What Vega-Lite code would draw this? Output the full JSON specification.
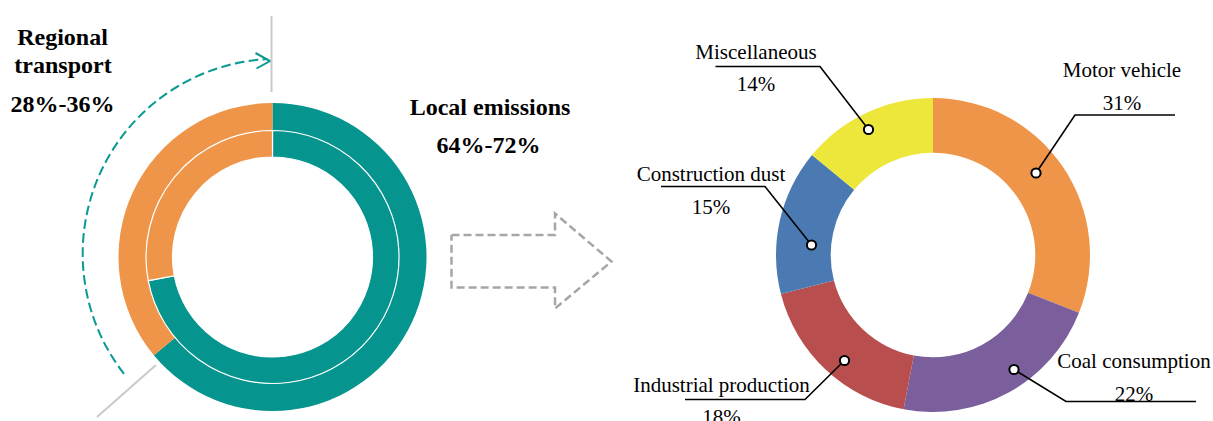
{
  "$schema": "https://vega.github.io/schema/vega-lite/v6.json",
  "width": 1213,
  "height": 421,
  "autosize": {"type": "fit", "contains": "padding"},
  "padding": 0,
  "background": "white",
  "config": {"view": {"stroke": null}, "text": {"font": "Liberation Serif"}},
  "datasets": {
    "rings": [
      {"ring": "outer", "source": "Local emissions", "share": 0.64, "seq": 1},
      {"ring": "outer", "source": "Regional transport", "share": 0.36, "seq": 2},
      {"ring": "inner", "source": "Local emissions", "share": 0.72, "seq": 1},
      {"ring": "inner", "source": "Regional transport", "share": 0.28, "seq": 2}
    ],
    "slices": [
      {"name": "Motor vehicle", "share": 0.31, "seq": 1},
      {"name": "Coal consumption", "share": 0.22, "seq": 2},
      {"name": "Industrial production", "share": 0.18, "seq": 3},
      {"name": "Construction dust", "share": 0.15, "seq": 4},
      {"name": "Miscellaneous", "share": 0.14, "seq": 5}
    ],
    "callouts": [
      {"name": "Motor vehicle", "lx": 1122, "ny": 76.5, "vy": 110},
      {"name": "Coal consumption", "lx": 1134, "ny": 368, "vy": 400.5},
      {"name": "Industrial production", "lx": 721.5, "ny": 391.5, "vy": 424},
      {"name": "Construction dust", "lx": 711, "ny": 181, "vy": 213.5},
      {"name": "Miscellaneous", "lx": 756, "ny": 58.5, "vy": 91}
    ],
    "leaders": [
      {"name": "Motor vehicle", "step": 0, "px": 1036, "py": 173},
      {"name": "Motor vehicle", "step": 1, "px": 1075, "py": 115},
      {"name": "Motor vehicle", "step": 2, "px": 1175, "py": 115},
      {"name": "Coal consumption", "step": 0, "px": 1014, "py": 369.5},
      {"name": "Coal consumption", "step": 1, "px": 1066, "py": 401.5},
      {"name": "Coal consumption", "step": 2, "px": 1196, "py": 401.5},
      {"name": "Industrial production", "step": 0, "px": 844.5, "py": 360.5},
      {"name": "Industrial production", "step": 1, "px": 805, "py": 399.5},
      {"name": "Industrial production", "step": 2, "px": 685, "py": 399.5},
      {"name": "Construction dust", "step": 0, "px": 811.5, "py": 245},
      {"name": "Construction dust", "step": 1, "px": 765, "py": 186.5},
      {"name": "Construction dust", "step": 2, "px": 661, "py": 186.5},
      {"name": "Miscellaneous", "step": 0, "px": 868.5, "py": 129.5},
      {"name": "Miscellaneous", "step": 1, "px": 820, "py": 66.5},
      {"name": "Miscellaneous", "step": 2, "px": 715.5, "py": 66.5}
    ],
    "outlines": [
      {"shape": "arrow", "step": 0, "px": 451.5, "py": 235},
      {"shape": "arrow", "step": 1, "px": 555, "py": 235},
      {"shape": "arrow", "step": 2, "px": 555, "py": 213.5},
      {"shape": "arrow", "step": 3, "px": 611.5, "py": 261.5},
      {"shape": "arrow", "step": 4, "px": 555, "py": 308.5},
      {"shape": "arrow", "step": 5, "px": 555, "py": 287.5},
      {"shape": "arrow", "step": 6, "px": 451.5, "py": 287.5},
      {"shape": "arrow", "step": 7, "px": 451.5, "py": 235},
      {"shape": "chevron", "step": 0, "px": 255.5, "py": 53},
      {"shape": "chevron", "step": 1, "px": 270, "py": 61},
      {"shape": "chevron", "step": 2, "px": 256.5, "py": 68.5}
    ],
    "notes": [
      {"line": "Regional", "tx": 62.5, "ty": 44.5},
      {"line": "transport", "tx": 63, "ty": 72.5},
      {"line": "28%-36%", "tx": 62.5, "ty": 111.5},
      {"line": "Local emissions", "tx": 490, "ty": 115},
      {"line": "64%-72%", "tx": 488.5, "ty": 152.5}
    ]
  },
  "layer": [
    {
      "data": {"name": "rings"},
      "transform": [{"filter": "datum.ring === 'outer'"}],
      "mark": {"type": "arc", "radius": 154, "radius2": 126.5, "clip": true},
      "encoding": {
        "x": {"datum": 272.5, "type": "quantitative", "scale": {"domain": [0, 1213], "nice": false, "zero": false}, "axis": null},
        "y": {"datum": 257, "type": "quantitative", "scale": {"domain": [421, 0], "nice": false, "zero": false}, "axis": null},
        "theta": {"field": "share", "type": "quantitative", "stack": true, "scale": {"domain": [0, 1]}},
        "order": {"field": "seq", "type": "quantitative"},
        "color": {
          "field": "source", "type": "nominal", "legend": null,
          "scale": {
            "domain": ["Local emissions", "Regional transport", "Motor vehicle", "Coal consumption", "Industrial production", "Construction dust", "Miscellaneous"],
            "range": ["#05948E", "#EF9549", "#EF9549", "#7B5F9C", "#B84E4D", "#4B7AB3", "#EDE73B"]
          }
        }
      }
    },
    {
      "data": {"name": "rings"},
      "transform": [{"filter": "datum.ring === 'inner'"}],
      "mark": {"type": "arc", "radius": 126.5, "radius2": 100, "stroke": "white", "strokeWidth": 1.2, "clip": true},
      "encoding": {
        "x": {"datum": 272.5, "type": "quantitative", "scale": {"domain": [0, 1213], "nice": false, "zero": false}, "axis": null},
        "y": {"datum": 257, "type": "quantitative", "scale": {"domain": [421, 0], "nice": false, "zero": false}, "axis": null},
        "theta": {"field": "share", "type": "quantitative", "stack": true, "scale": {"domain": [0, 1]}},
        "order": {"field": "seq", "type": "quantitative"},
        "color": {"field": "source", "type": "nominal", "legend": null}
      }
    },
    {
      "data": {"values": [{}]},
      "mark": {"type": "arc", "theta": 4.03, "theta2": 6.23, "radius": 195, "radius2": 195, "fill": "transparent", "stroke": "#0A9A93", "strokeWidth": 2, "strokeDash": [9, 5], "strokeDashOffset": 9.5, "clip": true},
      "encoding": {
        "x": {"datum": 277.7, "type": "quantitative", "scale": {"domain": [0, 1213], "nice": false, "zero": false}, "axis": null},
        "y": {"datum": 253.8, "type": "quantitative", "scale": {"domain": [421, 0], "nice": false, "zero": false}, "axis": null}
      }
    },
    {
      "data": {"name": "outlines"},
      "transform": [{"filter": "datum.shape === 'chevron'"}],
      "mark": {"type": "line", "stroke": "#0A9A93", "strokeWidth": 2, "strokeJoin": "miter", "clip": true},
      "encoding": {
        "x": {"field": "px", "type": "quantitative", "scale": {"domain": [0, 1213], "nice": false, "zero": false}, "axis": null},
        "y": {"field": "py", "type": "quantitative", "scale": {"domain": [421, 0], "nice": false, "zero": false}, "axis": null},
        "order": {"field": "step", "type": "quantitative"}
      }
    },
    {
      "data": {"values": [{}]},
      "mark": {"type": "rule", "stroke": "#C9C9C9", "strokeWidth": 2, "clip": true},
      "encoding": {
        "x": {"datum": 271.5, "type": "quantitative", "scale": {"domain": [0, 1213], "nice": false, "zero": false}, "axis": null},
        "y": {"datum": 16, "type": "quantitative", "scale": {"domain": [421, 0], "nice": false, "zero": false}, "axis": null},
        "y2": {"datum": 92}
      }
    },
    {
      "data": {"values": [{}]},
      "mark": {"type": "rule", "stroke": "#C9C9C9", "strokeWidth": 2, "clip": true},
      "encoding": {
        "x": {"datum": 156, "type": "quantitative", "scale": {"domain": [0, 1213], "nice": false, "zero": false}, "axis": null},
        "y": {"datum": 365, "type": "quantitative", "scale": {"domain": [421, 0], "nice": false, "zero": false}, "axis": null},
        "x2": {"datum": 97},
        "y2": {"datum": 417}
      }
    },
    {
      "data": {"name": "notes"},
      "mark": {"type": "text", "font": "Liberation Serif", "fontSize": 24, "fontWeight": "bold", "align": "center", "baseline": "alphabetic", "color": "black", "clip": true},
      "encoding": {
        "x": {"field": "tx", "type": "quantitative", "scale": {"domain": [0, 1213], "nice": false, "zero": false}, "axis": null},
        "y": {"field": "ty", "type": "quantitative", "scale": {"domain": [421, 0], "nice": false, "zero": false}, "axis": null},
        "text": {"field": "line", "type": "nominal"}
      }
    },
    {
      "data": {"name": "outlines"},
      "transform": [{"filter": "datum.shape === 'arrow'"}],
      "mark": {"type": "line", "stroke": "#A6A6A6", "strokeWidth": 2.5, "strokeDash": [8, 4], "strokeJoin": "miter", "clip": true},
      "encoding": {
        "x": {"field": "px", "type": "quantitative", "scale": {"domain": [0, 1213], "nice": false, "zero": false}, "axis": null},
        "y": {"field": "py", "type": "quantitative", "scale": {"domain": [421, 0], "nice": false, "zero": false}, "axis": null},
        "order": {"field": "step", "type": "quantitative"}
      }
    },
    {
      "data": {"name": "slices"},
      "mark": {"type": "arc", "radius": 157, "radius2": 102.3, "clip": true},
      "encoding": {
        "x": {"datum": 933, "type": "quantitative", "scale": {"domain": [0, 1213], "nice": false, "zero": false}, "axis": null},
        "y": {"datum": 255, "type": "quantitative", "scale": {"domain": [421, 0], "nice": false, "zero": false}, "axis": null},
        "theta": {"field": "share", "type": "quantitative", "stack": true, "scale": {"domain": [0, 1]}},
        "order": {"field": "seq", "type": "quantitative"},
        "color": {"field": "name", "type": "nominal", "legend": null}
      }
    },
    {
      "data": {"name": "leaders"},
      "mark": {"type": "line", "stroke": "black", "strokeWidth": 1.6, "strokeJoin": "miter", "clip": true},
      "encoding": {
        "x": {"field": "px", "type": "quantitative", "scale": {"domain": [0, 1213], "nice": false, "zero": false}, "axis": null},
        "y": {"field": "py", "type": "quantitative", "scale": {"domain": [421, 0], "nice": false, "zero": false}, "axis": null},
        "detail": {"field": "name", "type": "nominal"},
        "order": {"field": "step", "type": "quantitative"}
      }
    },
    {
      "data": {"name": "leaders"},
      "transform": [{"filter": "datum.step === 0"}],
      "mark": {"type": "point", "shape": "circle", "size": 85, "filled": true, "fill": "white", "fillOpacity": 1, "stroke": "black", "strokeWidth": 2, "opacity": 1, "clip": true},
      "encoding": {
        "x": {"field": "px", "type": "quantitative", "scale": {"domain": [0, 1213], "nice": false, "zero": false}, "axis": null},
        "y": {"field": "py", "type": "quantitative", "scale": {"domain": [421, 0], "nice": false, "zero": false}, "axis": null}
      }
    },
    {
      "data": {"name": "slices"},
      "transform": [{"lookup": "name", "from": {"data": {"name": "callouts"}, "key": "name", "fields": ["lx", "ny", "vy"]}}],
      "mark": {"type": "text", "font": "Liberation Serif", "fontSize": 21, "align": "center", "baseline": "alphabetic", "color": "black", "clip": true},
      "encoding": {
        "x": {"field": "lx", "type": "quantitative", "scale": {"domain": [0, 1213], "nice": false, "zero": false}, "axis": null},
        "y": {"field": "ny", "type": "quantitative", "scale": {"domain": [421, 0], "nice": false, "zero": false}, "axis": null},
        "text": {"field": "name", "type": "nominal"}
      }
    },
    {
      "data": {"name": "slices"},
      "transform": [{"lookup": "name", "from": {"data": {"name": "callouts"}, "key": "name", "fields": ["lx", "ny", "vy"]}}],
      "mark": {"type": "text", "font": "Liberation Serif", "fontSize": 21, "align": "center", "baseline": "alphabetic", "color": "black", "clip": true},
      "encoding": {
        "x": {"field": "lx", "type": "quantitative", "scale": {"domain": [0, 1213], "nice": false, "zero": false}, "axis": null},
        "y": {"field": "vy", "type": "quantitative", "scale": {"domain": [421, 0], "nice": false, "zero": false}, "axis": null},
        "text": {"field": "share", "type": "quantitative", "format": ".0%"}
      }
    }
  ]
}
